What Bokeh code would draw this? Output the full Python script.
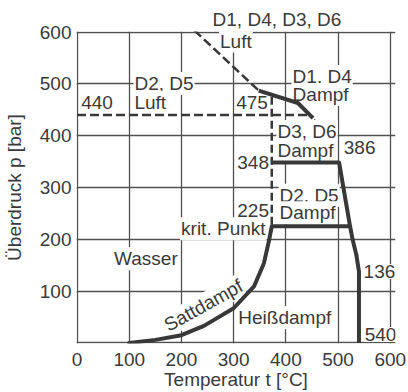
from bokeh.plotting import figure
from bokeh.models import Range1d, FixedTicker, Label, LinearAxis
from bokeh.embed import file_html
from bokeh.resources import INLINE

# ---- data ----
x_ticks = [0, 100, 200, 300, 400, 500, 600]
x_tick_labels = ["0", "100", "200", "300", "400", "500", "600"]
y_ticks = [0, 100, 200, 300, 400, 500, 600]
y_tick_labels = ["", "100", "200", "300", "400", "500", "600"]

# saturation curve (Sattdampf)
sat_t = [100, 150, 200, 243, 300, 339, 358, 368, 373]
sat_p = [0, 6, 15, 33, 67, 109, 154, 199, 225]

# D2, D5 Dampf (225 bar line)
d25_t = [373, 523]
d25_p = [225, 225]

# D3, D6 Dampf (348 bar line and outer limit)
d36_t = [373, 502, 523, 528, 535, 540, 540]
d36_p = [348, 348, 225, 199, 170, 138, 0]

# D1, D4 Dampf
d14_t = [348, 423, 452]
d14_p = [487, 463, 434]

# leader line to 386
lead_t = [454, 498]
lead_p = [431, 388]

# Luft lines (dashed)
luft1_t = [225, 348]
luft1_p = [603, 487]
luft2_t = [0, 442]
luft2_p = [440, 440]
luft3_t = [373, 373]
luft3_p = [475, 225]

LC = "#383838"
TC = "#3a3a3a"
GC = "#505050"
FONT = "Liberation Sans"
FS = "19px"

p = figure(width=408, height=392, x_range=Range1d(-1, 610), y_range=Range1d(-1, 601),
           output_backend="svg", toolbar_location=None,
           min_border_left=76, min_border_right=13, min_border_top=31, min_border_bottom=49)
p.outline_line_color = None
p.background_fill_color = "white"
p.border_fill_color = "white"

for ax in (p.xaxis[0], p.yaxis[0]):
    ax.axis_line_color = None
    ax.major_tick_line_color = None
    ax.minor_tick_line_color = None
    ax.major_tick_out = 0
    ax.major_tick_in = 0
    ax.minor_tick_out = 0
    ax.major_label_text_font = FONT
    ax.major_label_text_font_size = FS
    ax.major_label_text_color = TC
    ax.axis_label_text_font = FONT
    ax.axis_label_text_font_size = FS
    ax.axis_label_text_color = TC
    ax.axis_label_text_font_style = "normal"

p.xaxis.ticker = FixedTicker(ticks=x_ticks)
p.xaxis.major_label_overrides = {t: s for t, s in zip(x_ticks, x_tick_labels)}
p.xaxis.major_label_standoff = 9
p.xaxis.axis_label = "Temperatur t [°C]"
p.xaxis.axis_label_standoff = 0

p.yaxis.ticker = FixedTicker(ticks=y_ticks)
p.yaxis.major_label_overrides = {t: s for t, s in zip(y_ticks, y_tick_labels)}
p.yaxis.major_label_standoff = 5
p.yaxis.axis_label = "Überdruck p [bar]"
p.yaxis.axis_label_standoff = 12

p.xgrid.ticker = FixedTicker(ticks=x_ticks)
p.ygrid.ticker = FixedTicker(ticks=y_ticks)
for g in (p.xgrid[0], p.ygrid[0]):
    g.grid_line_color = GC
    g.grid_line_width = 1.3

# label above the frame (placed as a single tick label of a top axis)
top_text = "D1, D4, D3, D6"
top_pos = 383
top_axis = LinearAxis(ticker=FixedTicker(ticks=[top_pos]), major_label_overrides={top_pos: top_text},
                      axis_line_color=None, major_tick_line_color=None, minor_tick_line_color=None,
                      major_tick_out=0, major_tick_in=0, minor_tick_out=0,
                      major_label_standoff=2, major_label_text_font=FONT,
                      major_label_text_font_size=FS, major_label_text_color=TC)
p.add_layout(top_axis, "above")

# curves
p.line(sat_t, sat_p, line_width=4, line_color=LC, line_cap="round")
p.line(d25_t, d25_p, line_width=4, line_color=LC)
p.line(d36_t, d36_p, line_width=4, line_color=LC, line_join="round")
p.line(d14_t, d14_p, line_width=4, line_color=LC, line_join="round")
p.line(lead_t, lead_p, line_width=1.5, line_color=LC)
p.line(luft1_t, luft1_p, line_width=2.5, line_color=LC, line_dash="9 4")
p.line(luft2_t, luft2_p, line_width=2.5, line_color=LC, line_dash="9 4")
p.line(luft3_t, luft3_p, line_width=2.5, line_color=LC, line_dash="8 4")


def lab(x, y, text, align="left", level="underlay", angle=0, baseline="alphabetic", bg="white"):
    l = Label(x=x, y=y, text=text, text_font=FONT, text_font_size=FS, text_color=TC,
              text_align=align, text_baseline=baseline, background_fill_color=bg,
              padding=1, level=level, angle=angle, angle_units="deg", y_offset=6)
    p.add_layout(l)


lab(272, 571, "Luft")
lab(108, 489, "D2, D5")
lab(108, 452.5, "Luft")
lab(6, 451.5, "440")
lab(303, 453, "475")
lab(411, 502.5, "D1, D4")
lab(411, 468, "Dampf")
lab(382, 396.5, "D3, D6", level="annotation")
lab(382, 360.5, "Dampf")
lab(509, 365, "386")
lab(305, 336, "348")
lab(386, 273.5, "D2, D5")
lab(386, 239.5, "Dampf")
lab(305, 244, "225")
lab(363, 209, "krit. Punkt", align="right")
lab(69, 151, "Wasser")
lab(307, 37, "Heißdampf")
lab(547, 126.5, "136")
lab(549, 5, "540")
lab(242, 61, "Sattdampf", align="center", angle=29)

open("out.html", "w").write(file_html(p, INLINE))
